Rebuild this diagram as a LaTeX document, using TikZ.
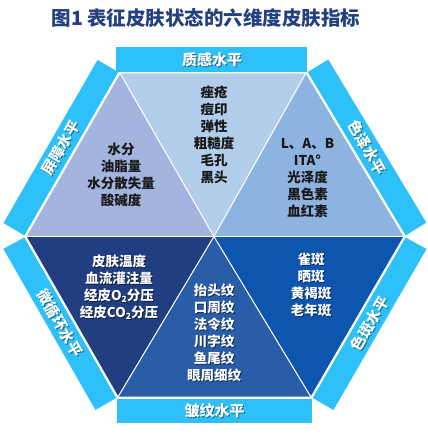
\documentclass[tikz,border=0pt]{standalone}
\usepackage{fontspec}
\setmainfont{Noto Sans CJK SC}
\definecolor{bandc}{HTML}{2EC1F9}
\definecolor{titlec}{HTML}{24417F}
\definecolor{tA}{HTML}{A3B4DF}
\definecolor{tB}{HTML}{B3CEEB}
\definecolor{tC}{HTML}{8DB3E1}
\definecolor{tD}{HTML}{213E80}
\definecolor{tE}{HTML}{2A5DA7}
\definecolor{tF}{HTML}{0D55AE}
\newcommand{\subtwo}{\raisebox{-2.5pt}{\fontsize{8.5}{8.5}\selectfont 2}}
\begin{document}
\begin{tikzpicture}[x=1pt,y=1pt,
  tri/.style={draw=white, line width=0.9pt, line join=round},
  band/.style={fill=bandc},
  lbl/.style={font=\bfseries\fontsize{15}{15}\selectfont, text=white, inner sep=0},
  lshd/.style={font=\bfseries\fontsize{15}{15}\selectfont, text=black, text opacity=0.45, inner sep=0},
  body/.style={font=\bfseries\fontsize{13.5}{17}\selectfont, align=center, inner sep=0},
  dark/.style={body, text=black!90},
  light/.style={body, text=white},
  bshd/.style={body, text=black, text opacity=0.5}]
\useasboundingbox (0,0) rectangle (428,434);
\fill[white] (0,0) rectangle (428,434);
% hexagon vertices
\coordinate (C) at (214,197.5);
\coordinate (V0) at (404,197.5);
\coordinate (V1) at (306,361);
\coordinate (V2) at (120,361);
\coordinate (V3) at (26,197.5);
\coordinate (V4) at (118,37);
\coordinate (V5) at (311,37);
% title
\node[font=\bfseries\fontsize{19.5}{20}\selectfont, text=titlec, inner sep=0] (title) at (206,416) {图1\ 表征皮肤状态的六维度皮肤指标};
% bands
\fill[band] (116,387) rectangle (307,362);
\fill[band] (117,35) rectangle (312,11);
\fill[band] (118.3,362) -- (24.3,198.5) -- (3.5,211) -- (97.5,374) -- cycle;
\fill[band] (307.7,362) -- (405.7,198.5) -- (426.3,211.4) -- (328.3,374.4) -- cycle;
\fill[band] (24.3,196.5) -- (116.3,36) -- (95.4,24.1) -- (3.4,185.1) -- cycle;
\fill[band] (312.7,36) -- (405.7,196.5) -- (426.5,185) -- (333.5,24) -- cycle;
% triangles
\filldraw[tri, fill=tA] (V2) -- (V3) -- (C) -- cycle;
\filldraw[tri, fill=tB] (V2) -- (V1) -- (C) -- cycle;
\filldraw[tri, fill=tC] (V1) -- (V0) -- (C) -- cycle;
\filldraw[tri, fill=tD] (V3) -- (V4) -- (C) -- cycle;
\filldraw[tri, fill=tE] (V4) -- (V5) -- (C) -- cycle;
\filldraw[tri, fill=tF] (V5) -- (V0) -- (C) -- cycle;
\draw[white, line width=1.4pt] (V3) -- (V0);
% band labels
\node[lshd] (s1) at (213,373) {质感水平};
\node[lbl] (l1) at (212,374) {质感水平};
\node[lshd, rotate=60] (s2) at (62,285.5) {屏障水平};
\node[lbl, rotate=60] (l2) at (61,286.5) {屏障水平};
\node[lshd, rotate=-60] (s3) at (368,285.7) {色泽水平};
\node[lbl, rotate=-60] (l3) at (367,286.7) {色泽水平};
\node[lshd, rotate=-60] (s4) at (61,109.6) {微循环水平};
\node[lbl, rotate=-60] (l4) at (60,110.6) {微循环水平};
\node[lshd, rotate=60] (s5) at (370.6,109.5) {色斑水平};
\node[lbl, rotate=60] (l5) at (369.6,110.5) {色斑水平};
\node[lshd] (s6) at (215.5,22) {皱纹水平};
\node[lbl] (l6) at (214.5,23) {皱纹水平};
% body texts
\node[dark] (a) at (121,259) {水分\\油脂量\\水分散失量\\酸碱度};
\node[dark] (b) at (214,299) {痤疮\\痘印\\弹性\\粗糙度\\毛孔\\黑头};
\node[dark] (c) at (307.5,256) {L、A、B\\ITA°\\光泽度\\黑色素\\血红素};
\node[bshd] (ds) at (120,146) {皮肤温度\\血流灌注量\\经皮O\subtwo 分压\\经皮CO\subtwo 分压};
\node[light] (d) at (119,147) {皮肤温度\\血流灌注量\\经皮O\subtwo 分压\\经皮CO\subtwo 分压};
\node[bshd] (es) at (215,100) {抬头纹\\口周纹\\法令纹\\川字纹\\鱼尾纹\\眼周细纹};
\node[light] (e) at (214,101) {抬头纹\\口周纹\\法令纹\\川字纹\\鱼尾纹\\眼周细纹};
\node[bshd] (fs) at (312,148) {雀斑\\晒斑\\黄褐斑\\老年斑};
\node[light] (f) at (311,149) {雀斑\\晒斑\\黄褐斑\\老年斑};
\end{tikzpicture}
\end{document}
